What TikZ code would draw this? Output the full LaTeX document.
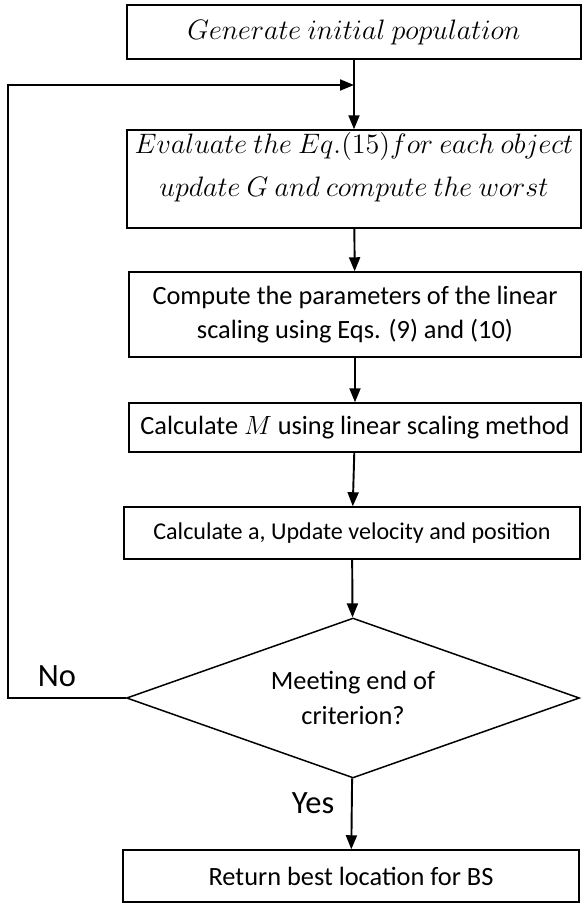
\documentclass[tikz,border=0pt]{standalone}
\usepackage{fix-cm}
\usepackage{fontspec}
\setmainfont{Carlito}
\usetikzlibrary{arrows.meta,shapes.geometric}

\begin{document}
\begin{tikzpicture}[x=0.02cm,y=-0.02cm,
  >={Triangle[length=2.8mm,width=2.2mm]},
  flow/.style={->,line width=1.1pt},
  box/.style={draw,line width=0.85pt,inner sep=0pt,align=center,
              font=\fontsize{15}{19}\selectfont},
  mbox/.style={box,font=\fontsize{16}{24.4}\selectfont},
  decision/.style={box,diamond,aspect=2.83,font=\fontsize{15}{20}\selectfont},
  tag/.style={font=\fontsize{18.5}{20}\selectfont}
]
\useasboundingbox (0,0) rectangle (582,903);

\node[mbox,minimum width=9.08cm,minimum height=1.08cm] (gen)  at (354,32)
  {$Generate\ initial\ population$};
\node[mbox,minimum width=9.08cm,minimum height=1.96cm,
      text height=0.9cm,text depth=0.22cm] (eval) at (354,179)
  {$Evaluate\ the\ Eq.(15)for\ each\ object$\\$update\ G\ and\ compute\ the\ worst$};
\node[box,minimum width=9.04cm,minimum height=1.7cm] (param) at (355,314.5)
  {Compute the parameters of the linear\\scaling using Eqs. (9) and (10)};
\node[box,minimum width=9.04cm,minimum height=0.98cm] (mass) at (355,427.5)
  {Calculate $M$ using linear scaling method};
\node[box,minimum width=9.12cm,minimum height=1.04cm,
      font=\fontsize{13.7}{16}\selectfont] (upd) at (352,533)
  {Calculate a, Update velocity and position};
\node[decision,minimum width=9.06cm,minimum height=3.2cm] (crit) at (353,698)
  {Meeting end of\\criterion?};
\node[box,minimum width=9.12cm,minimum height=1.04cm] (ret) at (351,876)
  {Return best location for BS};

\node[tag] (no)  at (57,676)  {No};
\node[tag] (yes) at (313,803) {Yes};

\coordinate (join) at (354,85);
\coordinate (back) at (8,85);

\draw[flow] (gen) -- (eval);
\draw[flow] (eval) -- (param);
\draw[flow] (param) -- (mass);
\draw[flow] (mass) -- (upd);
\draw[flow] (upd) -- (crit);
\draw[flow] (crit) -- (ret);
\draw[flow] (crit.west) -| (back) -- (join);
\end{tikzpicture}
\end{document}
